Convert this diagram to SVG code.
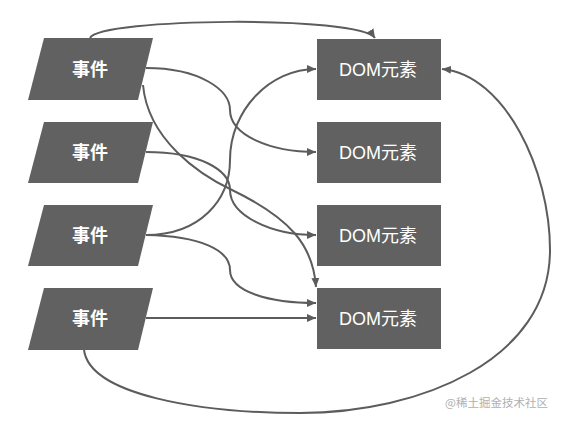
<svg xmlns="http://www.w3.org/2000/svg" width="563" height="422" viewBox="0 0 563 422">
<style>
.node{fill:#616161}
.lbl{fill:#ffffff;font-family:"Liberation Sans","Noto Sans CJK SC",sans-serif;font-size:18px;text-anchor:middle;dominant-baseline:central}
.ev{font-weight:bold}
.c{fill:none;stroke:#5c5c5c;stroke-width:2;marker-end:url(#ah)}
.wm{fill:#b0b0b0;font-family:"Noto Sans CJK SC",sans-serif;font-size:11.5px}
</style>
<defs>
<marker id="ah" markerUnits="userSpaceOnUse" markerWidth="10" markerHeight="10" viewBox="0 0 10 10" refX="9" refY="5" orient="auto">
<path d="M0,1 L9,5 L0,9 Z" fill="#5c5c5c"/>
</marker>
</defs>
<rect width="563" height="422" fill="#ffffff"/>
<g id="connectors">
<path class="c" d="M90,38 C100,18 360,15 375,38"/>
<path class="c" d="M146,68 C200,68 230,90 230,110 C230,135 270,152 316,152"/>
<path class="c" d="M143,85 C148,140 200,175 232,190 C290,218 313,245 316,287"/>
<path class="c" d="M146,152 C200,152 230,170 230,190 C230,215 270,235 316,235"/>
<path class="c" d="M146,235 C200,235 230,200 230,160 C230,110 270,69 316,69"/>
<path class="c" d="M146,235 C200,236 230,250 230,270 C230,292 270,303 316,303"/>
<path class="c" d="M146,318 L316,318"/>
<path class="c" d="M84,350 C90,395 200,413 300,413 C420,413 550,360 550,250 C550,170 505,75 442,69"/>
</g>
<g id="event1"><polygon class="node" points="44,38 153,38 138,100 28,100"/><text class="lbl ev" x="90" y="70">事件</text></g>
<g id="event2"><polygon class="node" points="44,122 153,122 138,183 28,183"/><text class="lbl ev" x="90" y="153">事件</text></g>
<g id="event3"><polygon class="node" points="44,205 153,205 138,266 28,266"/><text class="lbl ev" x="90" y="236">事件</text></g>
<g id="event4"><polygon class="node" points="44,288 153,288 138,350 28,350"/><text class="lbl ev" x="90" y="319">事件</text></g>
<g id="dom1"><rect class="node" x="317" y="39" width="124" height="61"/><text class="lbl" x="378" y="70">DOM元素</text></g>
<g id="dom2"><rect class="node" x="317" y="122" width="124" height="61"/><text class="lbl" x="378" y="153">DOM元素</text></g>
<g id="dom3"><rect class="node" x="317" y="205" width="124" height="61"/><text class="lbl" x="378" y="236">DOM元素</text></g>
<g id="dom4"><rect class="node" x="317" y="288" width="124" height="61"/><text class="lbl" x="378" y="319">DOM元素</text></g>
<text class="wm" x="445" y="407">@稀土掘金技术社区</text>
</svg>
